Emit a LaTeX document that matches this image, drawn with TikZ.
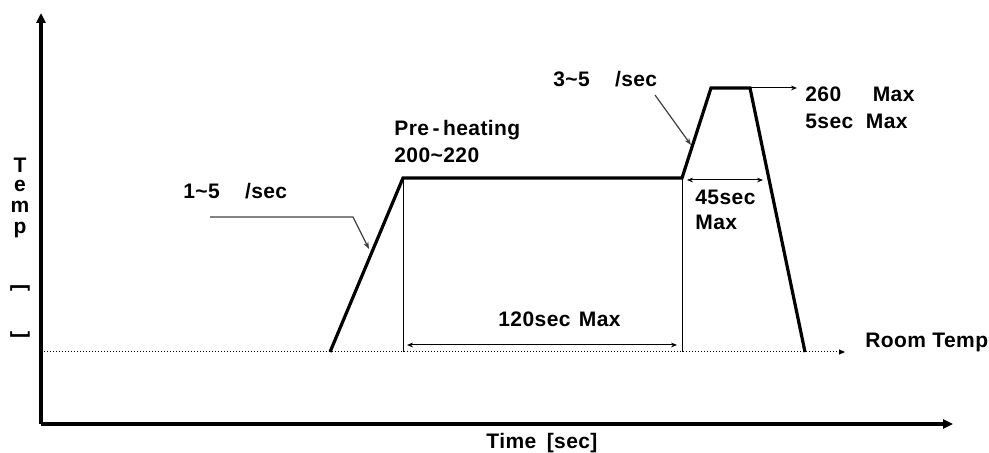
\documentclass[tikz,border=0pt]{standalone}
\usepackage{fontspec}
\setmainfont{Liberation Sans}[LetterSpace=2]
\usetikzlibrary{arrows.meta}

\begin{document}
\begin{tikzpicture}[x=0.5pt,y=-0.5pt,
  lbl/.style={font=\fontsize{10.5}{12}\selectfont\bfseries,inner sep=0pt,anchor=base west},
  axisline/.style={line width=1.7pt,-{Triangle[length=5pt,width=4.5pt]}},
  profile/.style={line width=1.6pt,line join=miter},
  guide/.style={line width=0.5pt},
  dim/.style={guide,{Stealth[length=3pt,width=2.4pt]}-{Stealth[length=3pt,width=2.4pt]}},
  lead/.style={line width=0.6pt,black!75,-{Stealth[length=3.5pt,width=2.6pt]}}]
  \useasboundingbox (0,0) rectangle (989,453);
  % axes
  \coordinate (o) at (41,424);
  \coordinate (ytip) at (41,13);
  \coordinate (xtip) at (953,424);
  \draw[axisline] (o) -- (ytip);
  \draw[axisline] (o) -- (xtip);
  % room temperature
  \coordinate (rt0) at (41,352);
  \coordinate (rt1) at (845,352);
  \draw[guide,dash pattern=on 0.6pt off 0.9pt,-{Triangle[length=3pt,width=2.5pt]}] (rt0) -- (rt1);
  % reflow profile
  \coordinate (rs) at (330,352);
  \coordinate (ps) at (403,178);
  \coordinate (pe) at (682,178);
  \coordinate (pk1) at (711,88);
  \coordinate (pk2) at (750,88);
  \coordinate (re) at (805,352);
  \draw[guide] (ps) -- (ps |- rt0);
  \draw[guide] (pe) -- (pe |- rt0);
  \draw[profile] (rs) -- (ps) -- (pe) -- (pk1) -- (pk2) -- (re);
  % dimensions and leaders
  \coordinate (d1a) at (407,345);
  \coordinate (d1b) at (677,345);
  \draw[dim] (d1a) -- (d1b);
  \coordinate (d2a) at (687,180);
  \coordinate (d2b) at (763,180);
  \draw[dim] (d2a) -- (d2b);
  \coordinate (pktip) at (797,88);
  \draw[guide,-{Stealth[length=3pt,width=2.4pt]}] (pk2) -- (pktip);
  \coordinate (l1a) at (210,217);
  \coordinate (l1b) at (353,217);
  \coordinate (l1c) at (369,249);
  \draw[lead] (l1a) -- (l1b) -- (l1c);
  \coordinate (l2a) at (655,95);
  \coordinate (l2b) at (691,145);
  \draw[lead] (l2a) -- (l2b);
  % labels
  \node[lbl] (rate1) at (183,199) {1\textasciitilde 5\hspace{1.2em}/sec};
  \node[lbl] (preheat) at (394,136) {Pre\,-\,heating};
  \node[lbl] (pretemp) at (394,163) {200\textasciitilde 220};
  \node[lbl] (rate2) at (553,87) {3\textasciitilde 5\hspace{1.2em}/sec};
  \node[lbl] (peak) at (805,102) {260\hspace{1.5em}Max};
  \node[lbl] (peaktime) at (805,129) {5sec\hspace{0.6em}Max};
  \node[lbl] (liq) at (695,205) {45sec};
  \node[lbl] (liqmax) at (695,230) {Max};
  \node[lbl] (soak) at (498,327) {120sec\hspace{0.4em}Max};
  \node[lbl] (room) at (865,348) {Room Temp};
  \node[lbl] (time) at (486,448) {Time\hspace{0.5em}[sec]};
  \foreach \ch/\y in {T/173,e/192,m/213,p/234}
    \node[lbl,anchor=base] (t\ch) at (20,\y) {\ch};
  \node[lbl,anchor=center,rotate=-90] (lbrk) at (20,288) {[};
  \node[lbl,anchor=center,rotate=-90] (rbrk) at (20,335) {]};
\end{tikzpicture}
\end{document}
